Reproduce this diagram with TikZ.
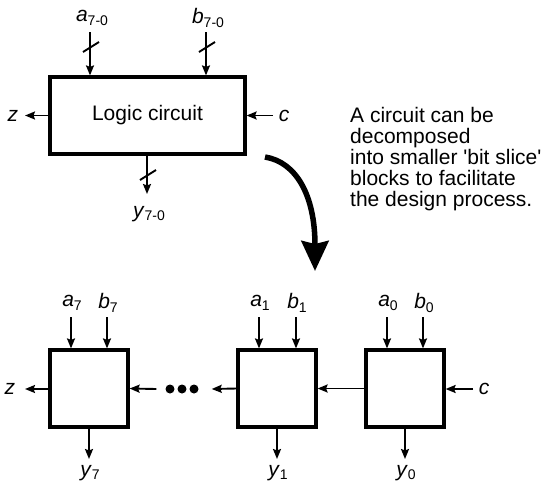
\documentclass[tikz,border=0pt]{standalone}
\usepackage{fontspec}
\setmainfont{Liberation Sans}
\usetikzlibrary{arrows.meta}
\newcommand{\lbl}[2]{\textit{#1}\raisebox{-3.5pt}{\fontsize{14}{14}\selectfont #2}}
\tikzset{
  box/.style={draw, line width=3.2pt, inner sep=0pt},
  arr/.style={line width=1.9pt, -{Stealth[length=10pt,width=8pt,inset=1.5pt]}},
  slash/.style={line width=1.9pt},
  txt/.style={inner sep=0pt, font=\fontsize{21}{21}\selectfont},
  dot/.style={circle, fill, inner sep=0pt, minimum size=9pt},
}
\begin{document}
\begin{tikzpicture}[x=1pt,y=-1pt]
\useasboundingbox (0,0) rectangle (547,483);
% top block
\node[box, minimum width=195, minimum height=77, txt] (L) at (147.5,115.5) {Logic circuit};
\coordinate (ta) at (90,32);
\coordinate (tb) at (206,32);
\coordinate (tz) at (25,115.5);
\coordinate (tc) at (273,115.5);
\coordinate (ty) at (147,194);
\node[txt] (la) at (92,18) {\lbl{a}{7-0}};
\node[txt] (lb) at (208,18) {\lbl{b}{7-0}};
\node[txt] (lz) at (13,115.5) {\textit{z}};
\node[txt] (lc) at (284,115.5) {\textit{c}};
\node[txt] (ly) at (149,214) {\lbl{y}{7-0}};
\draw[arr] (ta) -- (ta |- L.north);
\draw[arr] (tb) -- (tb |- L.north);
\draw[arr] (L.west |- tz) -- (tz);
\draw[arr] (tc) -- (L.east |- tc);
\draw[arr] (L.south -| ty) -- (ty);
\draw[slash] (83,52) -- (99,42);
\draw[slash] (199,52) -- (215,42);
\draw[slash] (140,180) -- (156,170);
% text
\node[txt, align=left, anchor=west] (T) at (350,158.6) {A circuit can be\\decomposed\\into smaller \textquotesingle bit slice\textquotesingle\\blocks to facilitate\\the design process.};
% big arrow
\coordinate (s) at (265,157);
\coordinate (e) at (315,271);
\draw[line width=5.5pt, -{Stealth[length=30pt,width=27pt,inset=3pt]}] (s) .. controls (296,162) and (315,195) .. (e);
% bottom blocks
\node[box, minimum width=78, minimum height=77] (B7) at (89,388.5) {};
\node[box, minimum width=78, minimum height=77] (B1) at (277,388.5) {};
\node[box, minimum width=78, minimum height=77] (B0) at (405,388.5) {};
\node[dot] (d1) at (170,389) {};
\node[dot] (d2) at (182,389) {};
\node[dot] (d3) at (194,389) {};
% inputs
\foreach \n/\xa/\xb/\s in {B7/71/107/7, B1/259/296/1, B0/387/423/0}{
  \coordinate (ia\s) at (\xa,317);
  \coordinate (ib\s) at (\xb,317);
  \node[txt] (na\s) at (\xa+1,303) {\lbl{a}{\s}};
  \node[txt] (nb\s) at (\xb+1,303) {\lbl{b}{\s}};
  \draw[arr] (ia\s) -- (ia\s |- \n.north);
  \draw[arr] (ib\s) -- (ib\s |- \n.north);
}
\foreach \n/\xo/\s in {B7/89/7, B1/277/1, B0/405/0}{
  \coordinate (o\s) at (\xo,459);
  \node[txt] (ny\s) at (\xo+1,473) {\lbl{y}{\s}};
  \draw[arr] (\n.south -| o\s) -- (o\s);
}
\coordinate (bz) at (25,389);
\coordinate (bc) at (473,389);
\node[txt] (nbz) at (10,389) {\textit{z}};
\node[txt] (nbc) at (484,389) {\textit{c}};
\draw[arr] (B7.west |- bz) -- (bz);
\draw[arr] (bc) -- (B0.east |- bc);
\draw[arr] (B0.west) -- (B1.east);
\draw[arr] (B1.west) -- ([xshift=13pt]d3.east);
\draw[arr] ([xshift=-9pt]d1.west) -- (B7.east);
\end{tikzpicture}
\end{document}
